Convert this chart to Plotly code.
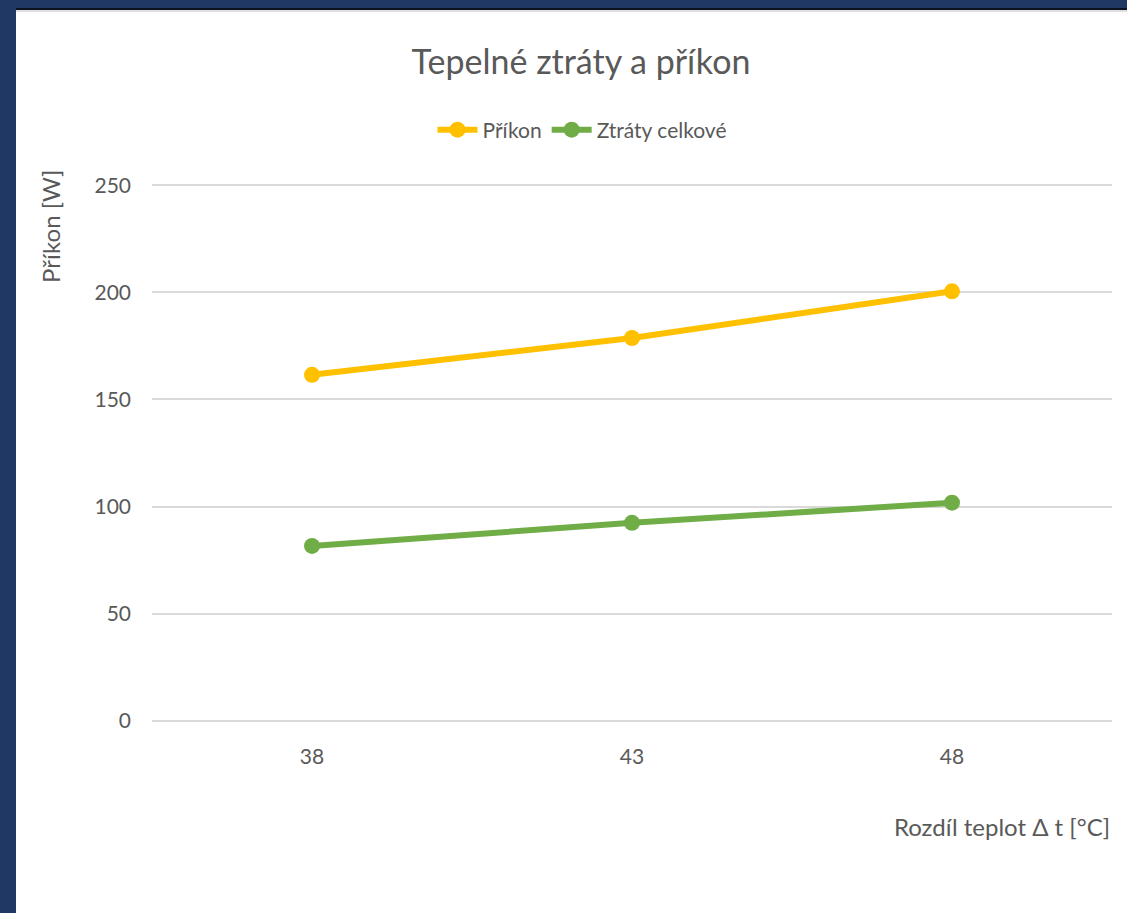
import plotly.graph_objects as go

categories = ["38", "43", "48"]
prikon = [161.5, 178.7, 200.5]
ztraty = [81.6, 92.4, 101.8]
series_names = ["Příkon", "Ztráty celkové"]
y_ticks = [0, 50, 100, 150, 200, 250]

FONT = "Lato, Open Sans, sans-serif"
GRAY = "#595959"
NAVY = "#1F3864"

L, R, T, B = 152, 15, 181, 188
W, H = 1127, 913
pw, ph = W - L - R, H - T - B

def px(x):
    return (x - L) / pw

def py(y):
    return (H - B - y) / ph

fig = go.Figure()
fig.add_trace(go.Scatter(x=categories, y=prikon, name=series_names[0], mode="lines+markers",
                         line=dict(color="#FFC000", width=6),
                         marker=dict(color="#FFC000", size=16)))
fig.add_trace(go.Scatter(x=categories, y=ztraty, name=series_names[1], mode="lines+markers",
                         line=dict(color="#70AD47", width=6),
                         marker=dict(color="#70AD47", size=16)))

fig.update_layout(
    width=W, height=H,
    margin=dict(l=L, r=R, t=T, b=B, pad=0),
    paper_bgcolor=NAVY, plot_bgcolor="white",
    font=dict(family=FONT, color=GRAY, size=21),
    title=dict(text="Tepelné ztráty a příkon", x=581 / W, xanchor="center",
               y=1 - 62 / H, yanchor="middle", font=dict(size=34, color=GRAY, family=FONT)),
    legend=dict(orientation="h", x=582 / W, xref="container", xanchor="center",
                y=1 - 130 / H, yref="container", yanchor="middle",
                font=dict(size=21, color=GRAY), itemwidth=40, tracegroupgap=0,
                bgcolor="rgba(0,0,0,0)"),
    showlegend=True,
    xaxis=dict(type="category", range=[-0.5, 2.5], showgrid=False, zeroline=False,
               showline=False, ticks="", tickfont=dict(size=21, color=GRAY),
               ticklabelstandoff=17),
    yaxis=dict(range=[-2, 252], tickvals=y_ticks, showgrid=True, gridcolor="#D9D9D9",
               gridwidth=2, zeroline=False, showline=False, ticks="",
               tickfont=dict(size=21, color=GRAY), ticklabelstandoff=20),
    shapes=[
        dict(type="rect", xref="paper", yref="paper", x0=px(16), x1=px(W + 5),
             y0=py(H + 5), y1=py(10), fillcolor="white", line=dict(width=0), layer="below"),
        dict(type="line", xref="paper", yref="paper", x0=px(16), x1=px(W + 5),
             y0=py(9), y1=py(9), line=dict(color="#0B1220", width=2), layer="below"),
        dict(type="line", xref="paper", yref="paper", x0=px(16), x1=px(W + 5),
             y0=py(11), y1=py(11), line=dict(color="#BFBFBF", width=1), layer="below"),
    ],
    annotations=[
        dict(text="Rozdíl teplot Δ t [°C]", xref="paper", yref="paper", x=px(1112), y=py(826),
             xanchor="right", yanchor="middle", showarrow=False, font=dict(size=24, color=GRAY)),
        dict(text="Příkon [W]", xref="paper", yref="paper", x=px(50), y=py(227),
             xanchor="center", yanchor="middle", textangle=-90, showarrow=False,
             font=dict(size=24, color=GRAY)),
    ],
)

fig.write_html("out.html")
